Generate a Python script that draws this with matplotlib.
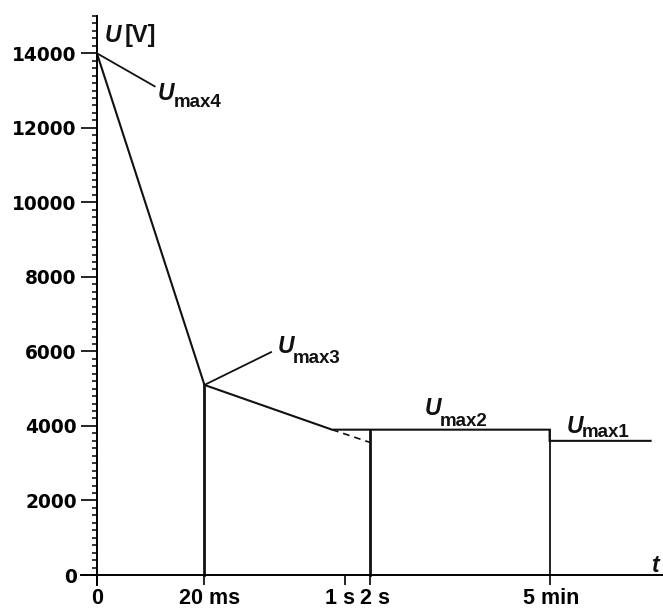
import matplotlib
matplotlib.use("Agg")
import matplotlib.pyplot as plt
from matplotlib.ticker import FixedLocator, NullLocator
from matplotlib.transforms import ScaledTranslation

# Time axis is logarithmic; the origin "0" sits at 1 ms
tick_times = [1e-3, 0.02, 1.0, 2.0, 300.0]
tick_labels = ["0", "20 ms", "1 s", "2 s", "5 min"]
tick_shift_px = [0, 5, -5, 5, 2]

# Envelope of the permissible voltage U over time t
env_t = [1e-3, 0.02, 0.7, 300.0, 300.0, 5000.0]
env_u = [14000, 5100, 3900, 3900, 3600, 3600]

# Extrapolation of the 20 ms ... 0.7 s slope to 2 s
dash_t = [0.7, 2.0]
dash_u = [3900, 3560]

# Vertical drop lines: (time, top voltage, line width)
drop_t = [0.02, 2.0, 300.0]
drop_u = [5100, 3900, 3900]
drop_lw = [2.0, 2.0, 1.3]

y_major = list(range(0, 14001, 2000))
y_minor = [v for v in range(200, 15001, 200) if v % 2000 != 0]

fig = plt.figure(figsize=(6.63, 6.08), dpi=100)
W, H = 663, 608
ax = fig.add_axes([81 / W, 23 / H, (663 - 81) / W, (585 - 16) / H])

ax.set_xscale("log")
ax.set_xlim(0.642e-3, 7065)
ax.set_ylim(-268, 15000)

for s in ("top", "right"):
    ax.spines[s].set_visible(False)
ax.spines["left"].set_position(("data", 1e-3))
ax.spines["bottom"].set_position(("data", 0))
for s in ("left", "bottom"):
    ax.spines[s].set_linewidth(1.4)

ink = "#111111"

ax.plot(env_t, env_u, color=ink, lw=1.5, solid_joinstyle="miter")
ax.plot(dash_t, dash_u, color=ink, lw=1.2, ls=(0, (4, 3)))
for t, u, w in zip(drop_t, drop_u, drop_lw):
    ax.plot([t, t], [0, u], color=ink, lw=w)

# Axis ticks
ax.xaxis.set_major_locator(FixedLocator(tick_times))
ax.xaxis.set_minor_locator(NullLocator())
ax.set_xticklabels(tick_labels)
ax.tick_params(axis="x", which="major", direction="out", length=7.5, width=1.2, pad=1.5)
for lab, dx in zip(ax.get_xticklabels(), tick_shift_px):
    lab.set_family("Liberation Sans")
    lab.set_weight("bold")
    lab.set_fontsize(15.5)
    lab.set_transform(lab.get_transform() + ScaledTranslation(dx / 100, 0, fig.dpi_scale_trans))

ax.yaxis.set_major_locator(FixedLocator(y_major))
ax.yaxis.set_minor_locator(FixedLocator(y_minor))
ax.set_yticklabels([str(v) for v in y_major])
ax.tick_params(axis="y", which="major", direction="out", length=11.5, width=1.2, pad=3)
ax.tick_params(axis="y", which="minor", direction="out", length=3.6, width=1.1)
for lab in ax.get_yticklabels():
    lab.set_family("DejaVu Sans")
    lab.set_weight("bold")
    lab.set_fontsize(13.4)

lab_font = dict(family="Liberation Sans", weight="bold", color=ink)


def u_label(x, y, sub, drop):
    ax.text(x, y, "U", style="italic", fontsize=16.5, ha="left", va="baseline", **lab_font)
    ax.annotate(sub, xy=(x, y), xytext=(11.2, -drop), textcoords="offset points",
                fontsize=13.5, ha="left", va="baseline", **lab_font)


# Leader lines to the labels
ax.plot([1e-3, 5.0e-3], [14000, 13113], color=ink, lw=1.3)
ax.plot([0.02, 0.128], [5100, 5980], color=ink, lw=1.3)

u_label(5.44e-3, 12738, "max4", 5)
u_label(0.152, 5953, "max3", 7)
u_label(9.22, 4291, "max2", 8)
u_label(481, 3820, "max1", 3)

# Axis titles
ax.text(1.25e-3, 14293, "U", style="italic", fontsize=16.5, ha="left", va="baseline", **lab_font)
ax.annotate("[V]", xy=(1.25e-3, 14293), xytext=(14.5, 0), textcoords="offset points",
            fontsize=17, ha="left", va="baseline", **lab_font)
ax.text(5075, 80, "t", style="italic", fontsize=16.5, ha="left", va="baseline", **lab_font)

fig.savefig("out.png", dpi=100)
